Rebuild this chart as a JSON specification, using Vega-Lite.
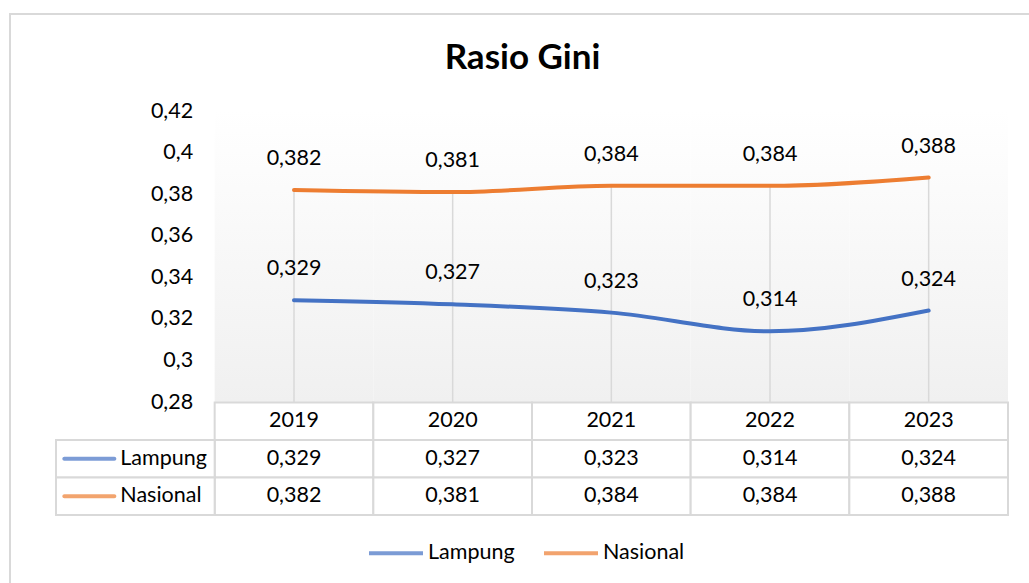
{
  "$schema": "https://vega.github.io/schema/vega-lite/v6.json",
  "width": 1025,
  "height": 575,
  "autosize": {"type": "none"},
  "padding": {"left": 10, "top": 14, "right": -6, "bottom": -6},
  "background": "white",
  "config": {
    "locale": {"number": {"decimal": ",", "thousands": ".", "grouping": [3], "currency": ["", ""]}},
    "view": {"stroke": "#d9d9d9", "strokeWidth": 2},
    "font": "Lato"
  },
  "title": {"text": "Rasio Gini", "anchor": "middle", "frame": "group", "font": "Lato", "fontSize": 35, "fontWeight": "bold", "color": "#000000", "offset": -79, "baseline": "middle"},
  "data": {"values": [
    {"year": "2019", "series": "Lampung", "value": 0.329},
    {"year": "2020", "series": "Lampung", "value": 0.327},
    {"year": "2021", "series": "Lampung", "value": 0.323},
    {"year": "2022", "series": "Lampung", "value": 0.314},
    {"year": "2023", "series": "Lampung", "value": 0.324},
    {"year": "2019", "series": "Nasional", "value": 0.382},
    {"year": "2020", "series": "Nasional", "value": 0.381},
    {"year": "2021", "series": "Nasional", "value": 0.384},
    {"year": "2022", "series": "Nasional", "value": 0.384},
    {"year": "2023", "series": "Nasional", "value": 0.388}
  ]},
  "resolve": {"scale": {"y": "independent"}},
  "layer": [
    {
      "transform": [{"filter": "datum.series == 'Lampung'"}],
      "mark": {"type": "rect", "fill": {"gradient": "linear", "x1": 0, "y1": 0, "x2": 0, "y2": 1, "stops": [{"offset": 0, "color": "#ffffff"}, {"offset": 1, "color": "#f0f0f0"}]}},
      "encoding": {
        "x": {"field": "year", "type": "nominal", "scale": {"type": "band", "domain": ["key", "2019", "2020", "2021", "2022", "2023"], "range": [46, 998], "paddingInner": 0, "paddingOuter": 0}, "axis": null},
        "y": {"datum": 0.42, "type": "quantitative", "scale": {"domain": [0.28, 0.42], "range": [388, 97], "nice": false, "zero": false}, "axis": null},
        "y2": {"datum": 0.28}
      }
    },
    {
      "transform": [{"aggregate": [{"op": "max", "field": "value", "as": "maxv"}], "groupby": ["year"]}],
      "mark": {"type": "rule", "color": "#d9d9d9", "strokeWidth": 1.5},
      "encoding": {
        "x": {"field": "year", "type": "nominal", "bandPosition": 0.5, "scale": {"type": "band", "domain": ["key", "2019", "2020", "2021", "2022", "2023"], "range": [46, 998], "paddingInner": 0, "paddingOuter": 0}, "axis": null},
        "y": {"field": "maxv", "type": "quantitative", "scale": {"domain": [0.28, 0.42], "range": [388, 97], "nice": false, "zero": false}, "axis": null},
        "y2": {"datum": 0.28}
      }
    },
    {
      "mark": {"type": "line", "interpolate": "monotone", "strokeWidth": 4, "strokeCap": "round"},
      "encoding": {
        "x": {"field": "year", "type": "nominal", "bandPosition": 0.5, "scale": {"type": "band", "domain": ["key", "2019", "2020", "2021", "2022", "2023"], "range": [46, 998], "paddingInner": 0, "paddingOuter": 0}, "axis": null},
        "y": {"field": "value", "type": "quantitative", "scale": {"domain": [0.28, 0.42], "range": [388, 97], "nice": false, "zero": false},
          "axis": {"orient": "left", "offset": -204.7, "values": [0.28, 0.3, 0.32, 0.34, 0.36, 0.38, 0.4, 0.42], "format": ".2~f", "labelFont": "Lato", "labelFontSize": 21.5, "labelColor": "#000000", "labelPadding": 22, "ticks": false, "domain": false, "grid": false, "title": null}},
        "color": {"field": "series", "type": "nominal", "scale": {"domain": ["Lampung", "Nasional"], "range": ["#4472C4", "#ED7D31"]},
          "legend": {"orient": "none", "legendX": 357, "legendY": 510, "direction": "horizontal", "title": null, "symbolType": "stroke", "symbolSize": 2916, "symbolStrokeWidth": 4, "symbolOpacity": 1, "labelFont": "Lato", "labelFontSize": 21.5, "labelColor": "#000000", "labelOffset": 3, "columnPadding": 21}}
      }
    },
    {
      "mark": {"type": "text", "baseline": "middle", "align": "center", "dy": -31, "font": "Lato", "fontSize": 21.5, "color": "#000000"},
      "encoding": {
        "x": {"field": "year", "type": "nominal", "bandPosition": 0.5, "scale": {"type": "band", "domain": ["key", "2019", "2020", "2021", "2022", "2023"], "range": [46, 998], "paddingInner": 0, "paddingOuter": 0}, "axis": null},
        "y": {"field": "value", "type": "quantitative", "scale": {"domain": [0.28, 0.42], "range": [388, 97], "nice": false, "zero": false}, "axis": null},
        "text": {"field": "value", "type": "quantitative", "format": ".3f"}
      }
    },
    {
      "mark": {"type": "rect", "fill": "#ffffff", "stroke": "#d9d9d9", "strokeWidth": 2},
      "encoding": {
        "x": {"field": "year", "type": "nominal", "scale": {"type": "band", "domain": ["key", "2019", "2020", "2021", "2022", "2023"], "range": [46, 998], "paddingInner": 0, "paddingOuter": 0}, "axis": null},
        "y": {"field": "series", "type": "nominal", "scale": {"type": "band", "domain": ["Tahun", "Lampung", "Nasional"], "range": [388.5, 501], "paddingInner": 0, "paddingOuter": 0}, "axis": null}
      }
    },
    {
      "transform": [{"filter": "datum.series == 'Lampung'"}],
      "mark": {"type": "rect", "fill": "#ffffff", "stroke": "#d9d9d9", "strokeWidth": 2},
      "encoding": {
        "x": {"field": "year", "type": "nominal", "scale": {"type": "band", "domain": ["key", "2019", "2020", "2021", "2022", "2023"], "range": [46, 998], "paddingInner": 0, "paddingOuter": 0}, "axis": null},
        "y": {"datum": "Tahun", "type": "nominal", "scale": {"type": "band", "domain": ["Tahun", "Lampung", "Nasional"], "range": [388.5, 501], "paddingInner": 0, "paddingOuter": 0}, "axis": null}
      }
    },
    {
      "transform": [{"filter": "datum.year == '2019'"}],
      "mark": {"type": "rect", "fill": "#ffffff", "stroke": "#d9d9d9", "strokeWidth": 2},
      "encoding": {
        "x": {"datum": "key", "type": "nominal", "scale": {"type": "band", "domain": ["key", "2019", "2020", "2021", "2022", "2023"], "range": [46, 998], "paddingInner": 0, "paddingOuter": 0}, "axis": null},
        "y": {"field": "series", "type": "nominal", "scale": {"type": "band", "domain": ["Tahun", "Lampung", "Nasional"], "range": [388.5, 501], "paddingInner": 0, "paddingOuter": 0}, "axis": null}
      }
    },
    {
      "mark": {"type": "text", "baseline": "middle", "align": "center", "font": "Lato", "fontSize": 21.5, "color": "#000000"},
      "encoding": {
        "x": {"field": "year", "type": "nominal", "bandPosition": 0.5, "scale": {"type": "band", "domain": ["key", "2019", "2020", "2021", "2022", "2023"], "range": [46, 998], "paddingInner": 0, "paddingOuter": 0}, "axis": null},
        "y": {"field": "series", "type": "nominal", "bandPosition": 0.5, "scale": {"type": "band", "domain": ["Tahun", "Lampung", "Nasional"], "range": [388.5, 501], "paddingInner": 0, "paddingOuter": 0}, "axis": null},
        "text": {"field": "value", "type": "quantitative", "format": ".3f"}
      }
    },
    {
      "transform": [{"filter": "datum.series == 'Lampung'"}],
      "mark": {"type": "text", "baseline": "middle", "align": "center", "font": "Lato", "fontSize": 21.5, "color": "#000000"},
      "encoding": {
        "x": {"field": "year", "type": "nominal", "bandPosition": 0.5, "scale": {"type": "band", "domain": ["key", "2019", "2020", "2021", "2022", "2023"], "range": [46, 998], "paddingInner": 0, "paddingOuter": 0}, "axis": null},
        "y": {"datum": "Tahun", "type": "nominal", "bandPosition": 0.5, "scale": {"type": "band", "domain": ["Tahun", "Lampung", "Nasional"], "range": [388.5, 501], "paddingInner": 0, "paddingOuter": 0}, "axis": null},
        "text": {"field": "year", "type": "nominal"}
      }
    },
    {
      "transform": [{"filter": "datum.year == '2019'"}],
      "mark": {"type": "tick", "orient": "horizontal", "thickness": 4, "size": 54, "xOffset": -46, "cornerRadius": 2},
      "encoding": {
        "x": {"datum": "key", "type": "nominal", "bandPosition": 0.5, "scale": {"type": "band", "domain": ["key", "2019", "2020", "2021", "2022", "2023"], "range": [46, 998], "paddingInner": 0, "paddingOuter": 0}, "axis": null},
        "y": {"field": "series", "type": "nominal", "bandPosition": 0.5, "scale": {"type": "band", "domain": ["Tahun", "Lampung", "Nasional"], "range": [388.5, 501], "paddingInner": 0, "paddingOuter": 0}, "axis": null},
        "color": {"field": "series", "type": "nominal", "scale": {"domain": ["Lampung", "Nasional"], "range": ["#4472C4", "#ED7D31"]}}
      }
    },
    {
      "transform": [{"filter": "datum.year == '2019'"}],
      "mark": {"type": "text", "baseline": "middle", "align": "left", "dx": -15, "font": "Lato", "fontSize": 21.5, "color": "#000000"},
      "encoding": {
        "x": {"datum": "key", "type": "nominal", "bandPosition": 0.5, "scale": {"type": "band", "domain": ["key", "2019", "2020", "2021", "2022", "2023"], "range": [46, 998], "paddingInner": 0, "paddingOuter": 0}, "axis": null},
        "y": {"field": "series", "type": "nominal", "bandPosition": 0.5, "scale": {"type": "band", "domain": ["Tahun", "Lampung", "Nasional"], "range": [388.5, 501], "paddingInner": 0, "paddingOuter": 0}, "axis": null},
        "text": {"field": "series", "type": "nominal"}
      }
    }
  ]
}
